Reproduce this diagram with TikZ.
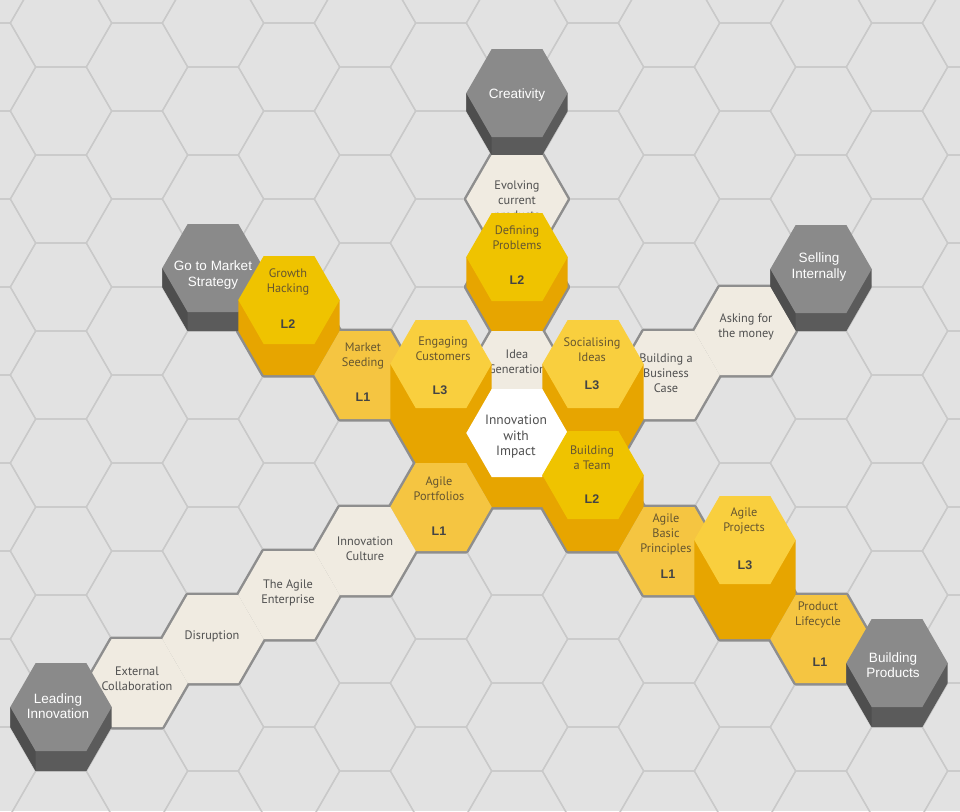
\documentclass[tikz,border=0pt]{standalone}
\usepackage{fontspec}
\setmainfont{PT Sans}
\newfontfamily\arialfont{Liberation Sans}
\definecolor{bgc}{HTML}{E2E2E2}
\definecolor{gridc}{HTML}{C9C9C9}
\definecolor{borderc}{HTML}{8E8E8E}
\definecolor{creamc}{HTML}{F0EBE1}
\definecolor{darktop}{HTML}{8A8A8A}
\definecolor{darkside}{HTML}{5B5B5B}
\definecolor{darkleft}{HTML}{4E4E4E}
\definecolor{lonec}{HTML}{F5C541}
\definecolor{ltwotop}{HTML}{EFC300}
\definecolor{lthreetop}{HTML}{F9CF3E}
\definecolor{sidec}{HTML}{E7A500}
\definecolor{txtgrey}{HTML}{505050}
\definecolor{txtbrown}{HTML}{665630}
\definecolor{levgrey}{HTML}{444444}
\newcommand\hexpath{(-50.7,0) -- (-25.35,-44) -- (25.35,-44) -- (50.7,0) -- (25.35,44) -- (-25.35,44) -- cycle}
\newcommand\prism[5]{%
  \fill[#4] ({#1-50.7},{#2-#3}) -- ({#1-50.7},#2) -- ({#1-25.35},{#2+44}) -- ({#1+25.35},{#2+44}) -- ({#1+50.7},#2) -- ({#1+50.7},{#2-#3}) -- cycle;
  \fill[#5,shift={(#1,{#2-#3})}] \hexpath;}
\newcommand\darkprism[3]{%
  \fill[darkside] ({#1-50.7},{#2-#3}) -- ({#1-50.7},#2) -- ({#1-25.35},{#2+44}) -- ({#1+25.35},{#2+44}) -- ({#1+50.7},#2) -- ({#1+50.7},{#2-#3}) -- cycle;
  \fill[darkleft] ({#1-50.7},{#2-#3}) -- ({#1-50.7},#2) -- ({#1-25.35},{#2+44}) -- ({#1-25.35},{#2+44-#3}) -- cycle;
  \fill[darktop,shift={(#1,{#2-#3})}] \hexpath;}
\newcommand\flathex[3]{\fill[#3,shift={(#1,#2)}] \hexpath;}
\newcommand\hexborder[2]{\draw[borderline,shift={(#1,#2)}] \hexpath;}
\tikzset{
  gridline/.style={draw=gridc, line width=1.3pt},
  borderline/.style={draw=borderc, line width=5pt, line join=round},
  lbl/.style={font=\fontsize{12.3}{15}\selectfont, text=txtgrey, align=center, inner sep=0pt},
  ylbl/.style={lbl, text=txtbrown},
  lev/.style={font=\arialfont\bfseries\fontsize{12.5}{15}\selectfont, text=levgrey, inner sep=0pt},
  dlbl/.style={font=\arialfont\fontsize{13.5}{15.5}\selectfont, text=white, align=center, inner sep=0pt},
  biglbl/.style={font=\fontsize{13.5}{15.5}\selectfont, text=txtgrey, align=center, inner sep=0pt},
}
\begin{document}
\begin{tikzpicture}[x=1pt,y=-1pt]
\useasboundingbox (0,0) rectangle (960,811);
\clip (0,0) rectangle (960,811);
\fill[bgc] (0,0) rectangle (960,811);
% background grid
\foreach \k in {-1,...,13}{
  \foreach \m in {-1,...,10}{
    \draw[gridline,shift={({61+76*\k},{23+44*mod(\k+2,2)+88*\m})}] \hexpath;
  }
}
% outer borders of the path
\hexborder{517}{199}
\hexborder{517}{287}
\hexborder{289}{331}
\hexborder{745}{331}
\hexborder{365}{375}
\hexborder{517}{375}
\hexborder{669}{375}
\hexborder{441}{419}
\hexborder{593}{419}
\hexborder{517}{463}
\hexborder{441}{507}
\hexborder{593}{507}
\hexborder{365}{551}
\hexborder{669}{551}
\hexborder{289}{595}
\hexborder{745}{595}
\hexborder{213}{639}
\hexborder{821}{639}
\hexborder{137}{683}
% hexes, back to front
\darkprism{517}{111}{18}
\node[dlbl] (creativity) at (517,95) {Creativity};
\flathex{517}{199}{creamc}
\node[lbl] (evolving) at (517,201) {Evolving\\current\\products};
\darkprism{213}{287}{19}
\node[dlbl] (gotomarket) at (213,275) {Go to Market\\Strategy};
\darkprism{821}{287}{18}
\node[dlbl] (selling) at (819,267) {Selling\\Internally};
\prism{517}{287}{30}{sidec}{ltwotop}
\node[ylbl] (defining) at (517,238) {Defining\\Problems};
\node[lev] (definingL) at (517,280) {L2};
\prism{289}{331}{31}{sidec}{ltwotop}
\node[ylbl] (growth) at (288,282) {Growth\\Hacking};
\node[lev] (growthL) at (288,324) {L2};
\flathex{745}{331}{creamc}
\node[lbl] (asking) at (746,327) {Asking for\\the money};
\flathex{365}{375}{lonec}
\node[ylbl] (seeding) at (363,356) {Market\\Seeding};
\node[lev] (seedingL) at (363,397) {L1};
\flathex{517}{375}{creamc}
\node[lbl] (idea) at (517,362) {Idea\\Generation};
\flathex{669}{375}{creamc}
\node[lbl] (business) at (666,373) {Building a\\Business\\Case};
\prism{441}{419}{55}{sidec}{lthreetop}
\node[ylbl] (engaging) at (443,349) {Engaging\\Customers};
\node[lev] (engagingL) at (440,390) {L3};
\prism{593}{419}{55}{sidec}{lthreetop}
\node[ylbl] (socialising) at (592,350) {Socialising\\Ideas};
\node[lev] (socialisingL) at (592,385) {L3};
\prism{517}{463}{30}{sidec}{white}
\node[biglbl] (innovation) at (516,437) {Innovation\\with\\Impact};
\flathex{441}{507}{lonec}
\node[ylbl] (portfolios) at (439,489) {Agile\\Portfolios};
\node[lev] (portfoliosL) at (439,531) {L1};
\prism{593}{507}{32}{sidec}{ltwotop}
\node[ylbl] (team) at (592,458) {Building\\a Team};
\node[lev] (teamL) at (592,499) {L2};
\flathex{365}{551}{creamc}
\node[lbl] (culture) at (365,549) {Innovation\\Culture};
\flathex{669}{551}{lonec}
\node[ylbl] (basic) at (666,534) {Agile\\Basic\\Principles};
\node[lev] (basicL) at (668,574) {L1};
\flathex{289}{595}{creamc}
\node[lbl] (enterprise) at (288,593) {The Agile\\Enterprise};
\prism{745}{595}{55}{sidec}{lthreetop}
\node[ylbl] (projects) at (744,521) {Agile\\Projects};
\node[lev] (projectsL) at (745,565) {L3};
\flathex{213}{639}{creamc}
\node[lbl] (disruption) at (212,636) {Disruption};
\flathex{821}{639}{lonec}
\node[ylbl] (lifecycle) at (818,615) {Product\\Lifecycle};
\node[lev] (lifecycleL) at (820,662) {L1};
\flathex{137}{683}{creamc}
\node[lbl] (external) at (137,679) {External\\Collaboration};
\darkprism{897}{683}{20}
\node[dlbl] (products) at (893,665) {Building\\Products};
\darkprism{61}{727}{20}
\node[dlbl] (leading) at (58,706) {Leading\\Innovation};
\end{tikzpicture}
\end{document}
